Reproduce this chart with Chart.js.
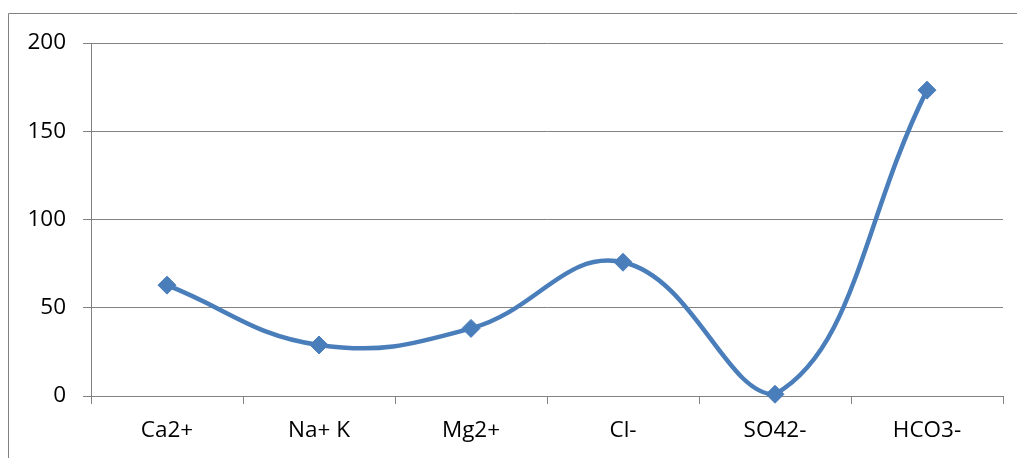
<!DOCTYPE html>
<html>
<head>
<meta charset="utf-8">
<script src="https://cdn.jsdelivr.net/npm/chart.js@4/dist/chart.umd.min.js"></script>
<style>
  html, body { margin: 0; padding: 0; background: #ffffff; }
  canvas { display: block; }
</style>
</head>
<body>
<canvas id="ionChart" width="1017" height="458"></canvas>
<script>
// Major ion concentrations
const categories = ['Ca2+', 'Na+ K', 'Mg2+', 'Cl-', 'SO42-', 'HCO3-'];
const ionValues = [62.8, 28.9, 38.3, 75.8, 1.0, 173.3];
const yTicks = [0, 50, 100, 150, 200];

const lineBlue = '#4A7EBB';
const axisGray = '#828282';
const labelFont = { family: "'Open Sans', 'Noto Sans', sans-serif", size: 22.5 };

// Thin frame around the chart object (top and left edges show in the view)
const framePlugin = {
  id: 'frame',
  beforeDraw(chart) {
    const ctx = chart.ctx;
    ctx.save();
    ctx.strokeStyle = axisGray;
    ctx.lineWidth = 1;
    ctx.beginPath();
    ctx.moveTo(8.5, chart.height);
    ctx.lineTo(8.5, 13.5);
    ctx.lineTo(chart.width, 13.5);
    ctx.stroke();
    ctx.restore();
  }
};

new Chart(document.getElementById('ionChart'), {
  type: 'line',
  data: {
    labels: categories,
    datasets: [{
      data: ionValues,
      borderColor: lineBlue,
      backgroundColor: lineBlue,
      borderWidth: 4.5,
      tension: 0.42,
      fill: false,
      clip: 12,
      pointStyle: 'rectRot',
      pointRadius: 9,
      pointBorderWidth: 1,
      pointBackgroundColor: lineBlue,
      pointBorderColor: lineBlue
    }]
  },
  options: {
    responsive: false,
    animation: false,
    devicePixelRatio: 1,
    layout: { padding: { left: 0, top: 43, right: 14, bottom: 0 } },
    plugins: {
      legend: { display: false },
      tooltip: { enabled: false }
    },
    scales: {
      x: {
        offset: true,
        grid: {
          offset: true,
          drawOnChartArea: false,
          drawTicks: true,
          tickLength: 8,
          color: axisGray,
          lineWidth: 1
        },
        border: { display: true, color: axisGray, width: 1 },
        ticks: { color: '#000000', font: labelFont, padding: 13, maxRotation: 0, autoSkip: false },
        afterFit(scale) { scale.height = 62; }
      },
      y: {
        min: 0,
        max: 200,
        afterBuildTicks(scale) { scale.ticks = yTicks.map(v => ({ value: v })); },
        grid: {
          drawTicks: true,
          tickLength: 8,
          color: axisGray,
          lineWidth: 1
        },
        border: { display: true, color: axisGray, width: 1 },
        ticks: { color: '#000000', font: labelFont, padding: 17 },
        afterFit(scale) { scale.width = 91; }
      }
    }
  },
  plugins: [framePlugin]
});
</script>
</body>
</html>
